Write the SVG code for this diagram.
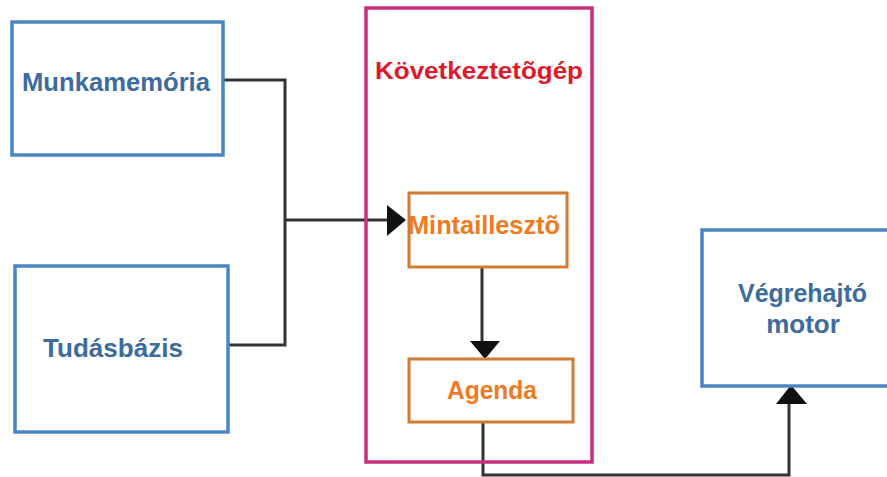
<svg xmlns="http://www.w3.org/2000/svg" width="887" height="477" viewBox="0 0 887 477">
  <defs>
    <style>
      .blue { fill: #ffffff; stroke: #4a86c4; stroke-width: 3.5; }
      .engine { fill: none; stroke: #c92f7c; stroke-width: 3.5; }
      .orange { fill: #ffffff; stroke: #d17b35; stroke-width: 3; }
      .wire { fill: none; stroke: #333333; stroke-width: 3; }
      .head { fill: #111111; }
      text { font-family: "Liberation Sans", Arial, sans-serif; font-weight: bold; }
      .tb { fill: #3d6b9e; font-size: 26px; }
      .tr { fill: #e0182a; font-size: 24px; }
      .to { fill: #f07a22; font-size: 26px; }
      .mid { text-anchor: middle; }
    </style>
  </defs>

  <!-- connectors -->
  <g id="connectors">
    <path class="wire" d="M223,80 H285 V345 H228"/>
    <path class="wire" d="M285,220 H392"/>
    <polygon class="head" points="387,205 406,220 387,236"/>
    <path class="wire" d="M482,267 V344"/>
    <polygon class="head" points="470,341 500,341 485,359"/>
    <path class="wire" d="M483,422 V475 H789 V400"/>
    <polygon class="head" points="776,404 807,404 791,385"/>
  </g>

  <g id="munkamemoria">
    <rect class="blue" x="12" y="22" width="211" height="133"/>
    <text class="tb" x="22" y="91" textLength="188" lengthAdjust="spacingAndGlyphs">Munkamemória</text>
  </g>

  <g id="tudasbazis">
    <rect class="blue" x="15" y="266" width="213" height="166"/>
    <text class="tb" x="43" y="357" textLength="140" lengthAdjust="spacingAndGlyphs">Tudásbázis</text>
  </g>

  <g id="kovetkeztetogep">
    <rect class="engine" x="366" y="8" width="226" height="454"/>
    <text class="tr" x="375" y="79" textLength="208" lengthAdjust="spacingAndGlyphs">Következtetõgép</text>
  </g>

  <g id="mintailleszto">
    <rect class="orange" x="409" y="193" width="158" height="74"/>
    <text class="to" x="408" y="234" textLength="152" lengthAdjust="spacingAndGlyphs">Mintaillesztõ</text>
  </g>

  <g id="agenda">
    <rect class="orange" x="409" y="359" width="164" height="63"/>
    <text class="to" x="447" y="399" textLength="90" lengthAdjust="spacingAndGlyphs">Agenda</text>
  </g>

  <g id="vegrehajto">
    <rect class="blue" x="702" y="230" width="200" height="156"/>
    <text class="tb" x="738" y="302" textLength="129" lengthAdjust="spacingAndGlyphs">Végrehajtó</text>
    <text class="tb mid" x="803" y="333">motor</text>
  </g>
</svg>
